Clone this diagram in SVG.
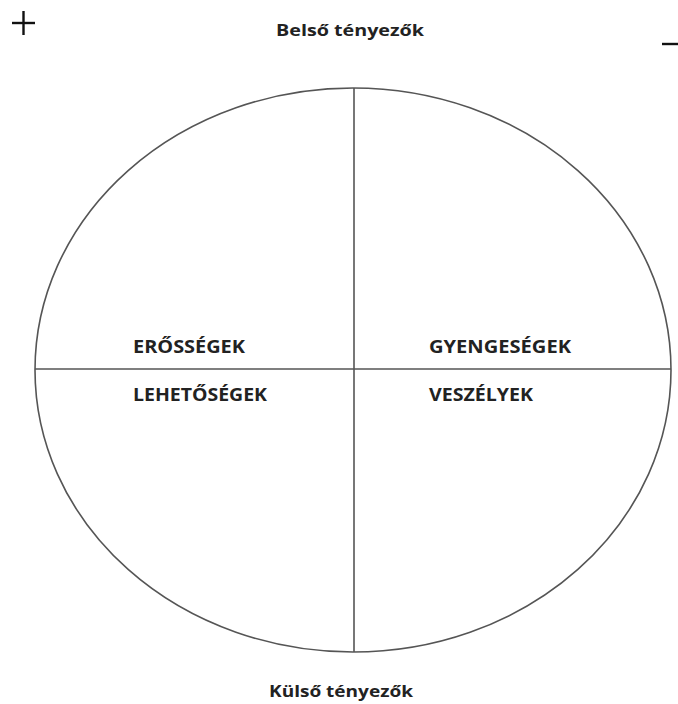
<svg xmlns="http://www.w3.org/2000/svg" width="678" height="704" viewBox="0 0 678 704">
<style>
.t{font-family:"Open Sans","Liberation Sans",sans-serif;font-weight:bold;font-size:17.5px;fill:#222}
.h{font-size:16px}
.l{fill:none;stroke:#555;stroke-width:1.6}
.s{stroke:#111;stroke-width:2.4}
</style>
<rect width="678" height="704" fill="#fff"/>
<g id="signs">
<line class="s" x1="12" y1="23" x2="35" y2="23"/>
<line class="s" x1="23.5" y1="11" x2="23.5" y2="35"/>
<line class="s" x1="662" y1="44" x2="678" y2="44"/>
</g>
<g id="ellipse">
<ellipse class="l" cx="353" cy="370" rx="318" ry="282"/>
</g>
<g id="connectors">
<line class="l" x1="354" y1="88" x2="354" y2="652"/>
<line class="l" x1="35" y1="369" x2="671" y2="369"/>
</g>
<g id="labels">
<text class="t h" x="350" y="36" text-anchor="middle" textLength="148" lengthAdjust="spacingAndGlyphs">Belső tényezők</text>
<text class="t h" x="341" y="697" text-anchor="middle" textLength="144" lengthAdjust="spacingAndGlyphs">Külső tényezők</text>
</g>
<g id="erossegek"><text class="t" x="133" y="353" textLength="112" lengthAdjust="spacingAndGlyphs">ERŐSSÉGEK</text></g>
<g id="gyengesegek"><text class="t" x="429" y="353" textLength="142" lengthAdjust="spacingAndGlyphs">GYENGESÉGEK</text></g>
<g id="lehetosegek"><text class="t" x="133" y="401" textLength="134" lengthAdjust="spacingAndGlyphs">LEHETŐSÉGEK</text></g>
<g id="veszelyek"><text class="t" x="429" y="401" textLength="104" lengthAdjust="spacingAndGlyphs">VESZÉLYEK</text></g>
</svg>
